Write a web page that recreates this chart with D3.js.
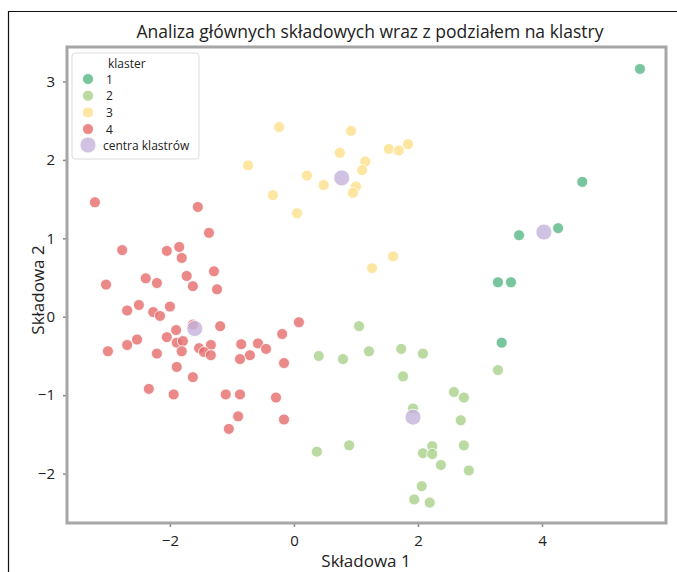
<!DOCTYPE html>
<html>
<head>
<meta charset="utf-8">
<script src="https://cdn.jsdelivr.net/npm/d3@7"></script>
<style>
  html, body { margin: 0; padding: 0; background: #fff; }
  svg text { font-family: "Open Sans", "Noto Sans", sans-serif; fill: #222; }
</style>
</head>
<body>
<svg id="chart" width="677" height="572"></svg>
<script>
// PCA scores (Składowa 1, Składowa 2) per cluster
const cluster1 = [
  [5.58, 3.16], [4.65, 1.72], [4.26, 1.13], [3.63, 1.04],
  [3.29, 0.44], [3.50, 0.44], [3.35, -0.33]
];
const cluster2 = [
  [1.05, -0.12], [0.40, -0.50], [0.79, -0.54], [1.21, -0.44], [1.73, -0.41],
  [2.08, -0.47], [1.76, -0.76], [2.58, -0.96], [2.74, -1.03], [1.92, -1.17],
  [2.69, -1.32], [2.74, -1.64], [2.23, -1.65], [2.08, -1.74], [2.23, -1.75],
  [2.37, -1.89], [2.82, -1.96], [0.37, -1.72], [0.89, -1.64], [2.06, -2.16],
  [1.94, -2.33], [2.19, -2.37], [3.29, -0.68]
];
const cluster3 = [
  [-0.24, 2.42], [0.92, 2.37], [0.74, 2.09], [-0.74, 1.93], [0.21, 1.80],
  [0.48, 1.68], [1.15, 1.98], [1.10, 1.87], [1.00, 1.66], [0.95, 1.58],
  [-0.34, 1.55], [0.05, 1.32], [1.53, 2.14], [1.69, 2.12], [1.84, 2.20],
  [1.60, 0.77], [1.26, 0.62]
];
const cluster4 = [
  [-3.21, 1.46], [-1.55, 1.40], [-1.37, 1.07], [-2.77, 0.85], [-2.05, 0.84],
  [-1.85, 0.89], [-1.81, 0.75], [-1.29, 0.58], [-1.73, 0.52], [-2.39, 0.49],
  [-2.21, 0.43], [-3.03, 0.41], [-1.63, 0.39], [-1.24, 0.35], [-2.69, 0.08],
  [-2.50, 0.15], [-2.00, 0.13], [-2.27, 0.06], [-2.16, 0.01], [0.08, -0.07],
  [-1.19, -0.12], [-1.90, -0.17], [-1.63, -0.10], [-0.19, -0.22], [-2.05, -0.26],
  [-1.89, -0.33], [-1.79, -0.31], [-2.53, -0.29], [-2.69, -0.36], [-3.00, -0.44],
  [-2.21, -0.47], [-1.81, -0.44], [-1.53, -0.40], [-1.34, -0.36], [-1.45, -0.45],
  [-1.34, -0.49], [-0.85, -0.35], [-0.58, -0.34], [-0.45, -0.41], [-0.71, -0.49],
  [-0.87, -0.54], [-0.16, -0.59], [-1.89, -0.64], [-1.63, -0.77], [-2.34, -0.92],
  [-1.94, -0.99], [-1.10, -0.99], [-0.87, -0.99], [-0.29, -1.03], [-0.90, -1.27],
  [-0.16, -1.31], [-1.05, -1.43]
];
const centroids = [[4.03, 1.08], [1.92, -1.28], [0.77, 1.77], [-1.60, -0.15]];

const clusterNames = ["1", "2", "3", "4"];
const clusterColors = ["#58b785", "#a9d18a", "#fce08a", "#e66c6c"];
const centroidColor = "#c4b3dc";
const xTicks = [-2, 0, 2, 4];
const yTicks = [-2, -1, 0, 1, 2, 3];

const titleText = "Analiza głównych składowych wraz z podziałem na klastry";
const xLabel = "Składowa 1";
const yLabel = "Składowa 2";
const legendTitle = "klaster";
const centroidLabel = "centra klastrów";

const svg = d3.select("#chart");

// outer figure frame
svg.append("path")
  .attr("d", "M8.5,572 L8.5,11.5 L677,11.5")
  .attr("fill", "none").attr("stroke", "#111").attr("stroke-width", 1.2);

const plot = { left: 67, top: 47, right: 666, bottom: 523 };

const x = d3.scaleLinear().domain([-3.66, 6.0]).range([plot.left, plot.right]);
const y = d3.scaleLinear().domain([-2.63, 3.44]).range([plot.bottom, plot.top]);

// title
svg.append("text")
  .attr("x", 370).attr("y", 38)
  .attr("text-anchor", "middle")
  .style("font-size", "17.5px")
  .text(titleText);

// axes
const xAxis = svg.append("g")
  .attr("transform", `translate(0,${plot.bottom})`)
  .call(d3.axisBottom(x).tickValues(xTicks).tickSize(4).tickPadding(8)
    .tickFormat(d => d < 0 ? "\u2212" + Math.abs(d) : d));
const yAxis = svg.append("g")
  .attr("transform", `translate(${plot.left},0)`)
  .call(d3.axisLeft(y).tickValues(yTicks).tickSize(4).tickPadding(8)
    .tickFormat(d => d < 0 ? "\u2212" + Math.abs(d) : d));
[xAxis, yAxis].forEach(g => {
  g.select(".domain").remove();
  g.selectAll(".tick line").attr("stroke", "#888").attr("stroke-width", 1.5);
  g.selectAll(".tick text").style("font-size", "15px").attr("fill", "#222");
});

// axis labels
svg.append("text")
  .attr("x", 366).attr("y", 567)
  .attr("text-anchor", "middle")
  .style("font-size", "17px")
  .text(xLabel);
svg.append("text")
  .attr("transform", "translate(44,290) rotate(-90)")
  .attr("text-anchor", "middle")
  .style("font-size", "17px")
  .text(yLabel);

// scatter points
const clusters = [cluster1, cluster2, cluster3, cluster4];
const pts = svg.append("g");
clusters.forEach((data, i) => {
  pts.selectAll(null)
    .data(data)
    .enter().append("circle")
    .attr("cx", d => x(d[0]))
    .attr("cy", d => y(d[1]))
    .attr("r", 5.5)
    .attr("fill", clusterColors[i])
    .attr("fill-opacity", 0.8)
    .attr("stroke", "#fff")
    .attr("stroke-width", 0.8);
});

// cluster centres
pts.selectAll(null)
  .data(centroids)
  .enter().append("circle")
  .attr("cx", d => x(d[0]))
  .attr("cy", d => y(d[1]))
  .attr("r", 8)
  .attr("fill", centroidColor)
  .attr("fill-opacity", 0.8)
  .attr("stroke", "#fff")
  .attr("stroke-width", 0.8);

// plot frame
svg.append("rect")
  .attr("x", plot.left).attr("y", plot.top)
  .attr("width", plot.right - plot.left).attr("height", plot.bottom - plot.top)
  .attr("fill", "none").attr("stroke", "#a6a6a6").attr("stroke-width", 3);

// legend
const lg = svg.append("g").attr("transform", "translate(72,53)");
lg.append("rect")
  .attr("width", 127).attr("height", 106).attr("rx", 3)
  .attr("fill", "#fff").attr("fill-opacity", 0.85)
  .attr("stroke", "#ddd").attr("stroke-width", 1);
lg.append("text").attr("x", 36).attr("y", 15)
  .style("font-size", "12px").text(legendTitle);
clusterNames.forEach((name, i) => {
  const cy = 26 + i * 16.7;
  lg.append("circle").attr("cx", 16).attr("cy", cy).attr("r", 5.5)
    .attr("fill", clusterColors[i]).attr("fill-opacity", 0.8)
    .attr("stroke", "#fff").attr("stroke-width", 0.8);
  lg.append("text").attr("x", 34).attr("y", cy + 4.5)
    .style("font-size", "12px").text(name);
});
lg.append("circle").attr("cx", 16).attr("cy", 92).attr("r", 8)
  .attr("fill", centroidColor).attr("fill-opacity", 0.8)
  .attr("stroke", "#fff").attr("stroke-width", 0.8);
lg.append("text").attr("x", 31).attr("y", 96.5)
  .style("font-size", "12px").text(centroidLabel);
</script>
</body>
</html>
